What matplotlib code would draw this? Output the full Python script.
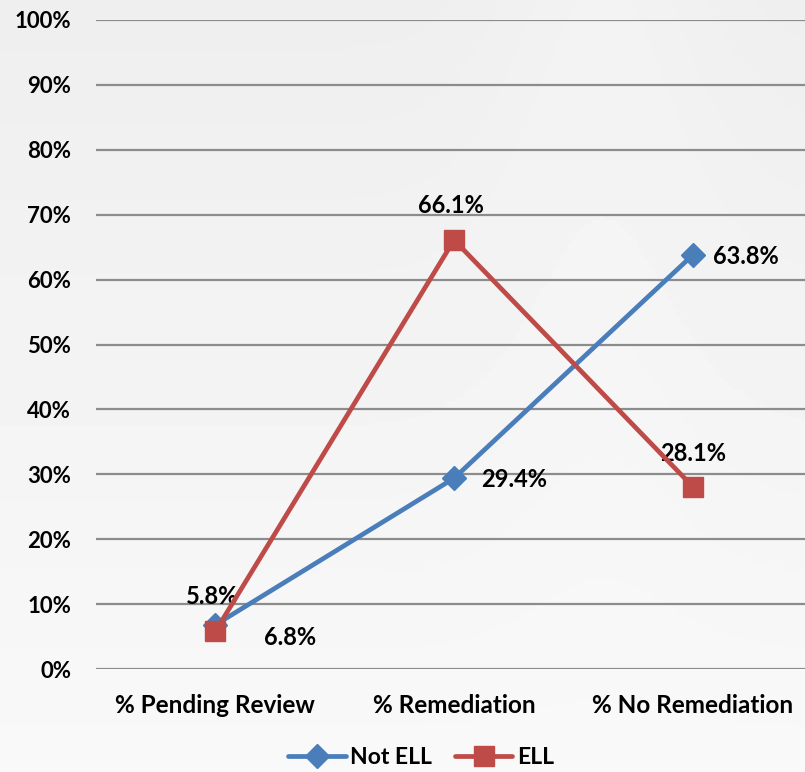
import numpy as np
import matplotlib.pyplot as plt
from matplotlib.ticker import PercentFormatter

categories = ['% Pending Review', '% Remediation', '% No Remediation']
not_ell = [6.8, 29.4, 63.8]
ell = [5.8, 66.1, 28.1]

# label offsets in points (dx, dy) for each point
not_ell_offsets = [(54, -9), (43, -1), (38, -1)]
ell_offsets = [(-2, 25), (-2, 25), (0, 24)]

plt.rcParams['font.family'] = ['Lato', 'DejaVu Sans']
plt.rcParams['font.weight'] = 'bold'

fig = plt.figure(figsize=(8.05, 7.72), dpi=100)

# light gray background with soft gradient
bg = fig.add_axes([0, 0, 1, 1], zorder=-10)
yy = np.linspace(0, 1, 200)[:, None]
xx = np.linspace(0, 1, 200)[None, :]
grad = 0.935 + 0.04 * yy + 0.015 * np.exp(-((xx - 0.75) ** 2) / 0.02) * (1 - yy)
bg.imshow(grad, cmap='gray', vmin=0, vmax=1, aspect='auto', extent=[0, 1, 0, 1])
bg.axis('off')

ax = fig.add_axes([96 / 805, (772 - 669) / 772, 709 / 805, 649 / 772])
ax.patch.set_alpha(0)

x = np.arange(len(categories))
blue = '#4a7ebb'
red = '#be4b48'

ax.plot(x, not_ell, color=blue, lw=3.4, marker='D', markersize=12,
        label='Not ELL', zorder=3, solid_capstyle='round')
ax.plot(x, ell, color=red, lw=3.4, marker='s', markersize=15,
        label='ELL', zorder=4, solid_capstyle='round')

for xi, v, (dx, dy) in zip(x, not_ell, not_ell_offsets):
    ax.annotate(f'{v:.1f}%', (xi, v), xytext=(dx, dy), textcoords='offset points',
                ha='center', va='center', fontsize=17, fontweight='bold')
for xi, v, (dx, dy) in zip(x, ell, ell_offsets):
    ax.annotate(f'{v:.1f}%', (xi, v), xytext=(dx, dy), textcoords='offset points',
                ha='center', va='center', fontsize=17, fontweight='bold')

ax.set_ylim(0, 100)
ax.set_xlim(-0.5, 2.47)
ax.set_yticks(np.arange(0, 101, 10))
ax.yaxis.set_major_formatter(PercentFormatter(decimals=0))
ax.set_xticks(x)
ax.set_xticklabels(categories)
ax.tick_params(axis='both', length=0)
ax.tick_params(axis='y', pad=18, labelsize=16)
ax.tick_params(axis='x', pad=18, labelsize=17.5)
ax.grid(axis='y', color='#8c8c8c', lw=1.6)
ax.set_axisbelow(True)
for s in ax.spines.values():
    s.set_visible(False)

fig.legend(loc='center', bbox_to_anchor=(421 / 805, 1 - 758 / 772), ncol=2,
           frameon=False, fontsize=16.5, handlelength=2.5, columnspacing=1.0,
           handletextpad=0.2)

fig.savefig('out.png', dpi=100)
